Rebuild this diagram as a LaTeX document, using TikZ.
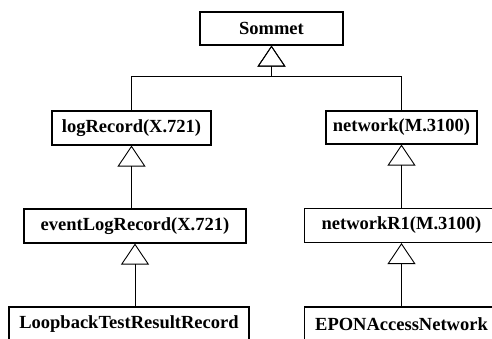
\documentclass[tikz,border=0pt]{standalone}
\usepackage{fontspec}
\setmainfont{Liberation Serif}
\usetikzlibrary{arrows.meta}

\begin{document}
\begin{tikzpicture}[x=1pt,y=1pt,
  classbox/.style={draw,line width=1.2pt,inner sep=0pt,minimum height=34pt,
    font=\fontsize{18.5}{22}\selectfont\bfseries}, % boîte de classe
  isa/.style={line width=0.9pt,-{Triangle[open,length=21pt,width=28pt]}}, % héritage
]
  \clip (0,0) rectangle (492,338);
  % racine
  \node[classbox,minimum width=143pt,minimum height=33pt] (sommet) at (271.5,309.5) {Sommet};
  % branche gauche
  \node[classbox,minimum width=159pt] (logrec) at (131.5,210) {logRecord(X.721)};
  \node[classbox,minimum width=222pt] (eventlog) at (135,112) {eventLogRecord(X.721)};
  \node[classbox,minimum width=240pt] (loopback) at (129,14) {LoopbackTestResultRecord};
  % branche droite
  \node[classbox,minimum width=151pt,minimum height=33pt] (network) at (401.5,210.5) {network(M.3100)};
  \node[classbox,minimum width=194pt] (networkr) at (401.5,112.5) {networkR1(M.3100)};
  \node[classbox,minimum width=194pt] (epon) at (401.5,14) {EPONAccessNetwork};
  \coordinate (fork) at (271.5,262);
  \draw[isa] (logrec.north) |- (fork) -- (sommet.south);
  \draw[isa] (network.north) |- (fork) -- (sommet.south);
  \draw[isa] (eventlog.north -| logrec.south) -- (logrec.south);
  \draw[isa] (loopback.north -| eventlog.south) -- (eventlog.south);
  \draw[isa] (networkr.north -| network.south) -- (network.south);
  \draw[isa] (epon.north -| networkr.south) -- (networkr.south);
\end{tikzpicture}
\end{document}
